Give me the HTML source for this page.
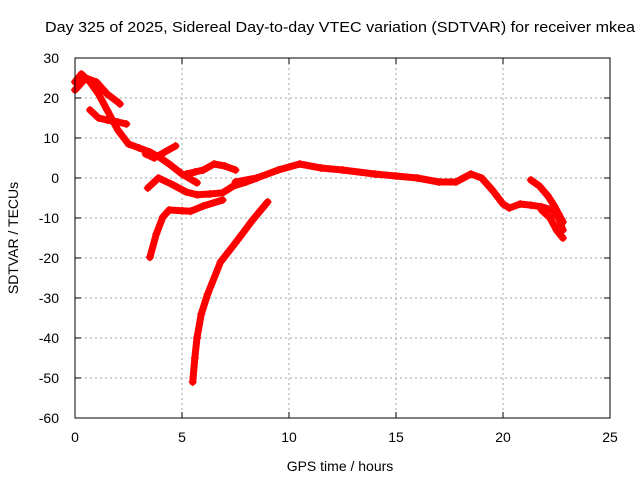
<!DOCTYPE html>
<html><head><meta charset="utf-8"><style>
body{margin:0;background:#fff;}
svg{font-family:"Liberation Sans",sans-serif;font-size:14px;}
</style></head><body>
<svg id="chart" width="640" height="480">
<text x="45" y="32" textLength="590" lengthAdjust="spacingAndGlyphs" font-size="15">Day 325 of 2025, Sidereal Day-to-day VTEC variation (SDTVAR) for receiver mkea</text>
<text x="340" y="471" text-anchor="middle">GPS time / hours</text>
<text transform="translate(18,238) rotate(-90)" text-anchor="middle">SDTVAR / TECUs</text>
<g id="grid"></g><g id="ticks"></g><g id="series"></g>
<rect x="75" y="58" width="535" height="360" fill="none" stroke="#000" stroke-width="1"/>
</svg>
<script>
const xTicks=[0,5,10,15,20,25];
const yTicks=[30,20,10,0,-10,-20,-30,-40,-50,-60];
const trackMainX=[0,0.3,0.7,1.1,1.5,2.0,2.5,3.0,3.5,4.0,4.4,5.0,5.7];
const trackMainY=[24,26,24,21,17,12,8.5,7.5,6.5,5,3.5,1,-1.2];
const trackUpper1X=[0,0.5,1.0,1.5,2.0,2.1];
const trackUpper1Y=[22,25,24,21,19,18.5];
const trackUpper2X=[0.7,1.1,1.5,2.0,2.4];
const trackUpper2Y=[17,15,14.5,14,13.5];
const trackBranchX=[3.3,3.7,4.2,4.7];
const trackBranchY=[6,5,6.5,8];
const trackBumpX=[5.2,5.6,6.0,6.5,7.0,7.5];
const trackBumpY=[1,1.5,2,3.5,3,2];
const trackMidX=[3.4,3.9,4.5,5.2,5.7,6.3,6.9,7.4,8,8.5];
const trackMidY=[-2.5,0,-1.5,-3.5,-4.2,-4,-3.7,-2,-1,0];
const trackLowX=[3.5,3.8,4.1,4.4,5.0,5.4,6.0,6.9];
const trackLowY=[-19.8,-14,-9.8,-8,-8.2,-8.3,-7,-5.5];
const trackSteepX=[5.5,5.6,5.7,5.9,6.2,6.8,7.6,8.3,9.0];
const trackSteepY=[-51,-45,-40,-34,-29,-21,-15.5,-10.5,-6];
const trackRightX=[7.5,8.5,9.5,10.5,11.5,12.5,14,15,16,17,17.8,18.5,19,19.5,20,20.3,20.8,21.3,21.8,22.3,22.6,22.8];
const trackRightY=[-1,0,2,3.5,2.5,2,1,0.5,0,-1,-1,1,0,-3,-6.5,-7.5,-6.5,-6.8,-7.2,-8,-10,-13];
const trackRight2X=[21.3,21.7,22.1,22.4,22.6,22.8];
const trackRight2Y=[-0.5,-2,-4.5,-7,-9,-11];
const trackRight3X=[21.8,22.2,22.5,22.8];
const trackRight3Y=[-8,-10,-13,-15];

const NS="http://www.w3.org/2000/svg";
const X0=75,X1=610,Y0=58,Y1=418;
function sx(v){return X0+(v-0)/(25-0)*(X1-X0);}
function sy(v){return Y1-(v+60)/90*(Y1-Y0);}
function mk(tag,attrs,parent){const e=document.createElementNS(NS,tag);for(const k in attrs)e.setAttribute(k,attrs[k]);parent.appendChild(e);return e;}
const grid=document.getElementById('grid'),ticks=document.getElementById('ticks'),ser=document.getElementById('series');
xTicks.forEach(t=>{
  const x=sx(t);
  if(t>0&&t<25){const g=mk('line',{x1:x,x2:x,y1:Y0,y2:Y1,stroke:'#a0a0a0','stroke-dasharray':'2,3'},grid);
  
  }
  mk('line',{x1:x,x2:x,y1:Y1,y2:Y1-6,stroke:'#000'},ticks);
  mk('line',{x1:x,x2:x,y1:Y0,y2:Y0+6,stroke:'#000'},ticks);
  const l=mk('text',{x:x,y:Y1+24,'text-anchor':'middle'},ticks);l.textContent=t;
  
  
});
yTicks.forEach(t=>{
  const y=sy(t);
  if(t>-60&&t<30){const g=mk('line',{x1:X0,x2:X1,y1:y,y2:y,stroke:'#a0a0a0','stroke-dasharray':'2,3'},grid);
  
  }
  mk('line',{x1:X0,x2:X0+6,y1:y,y2:y,stroke:'#000'},ticks);
  mk('line',{x1:X1,x2:X1-6,y1:y,y2:y,stroke:'#000'},ticks);
  const l=mk('text',{x:X0-16,y:y+5,'text-anchor':'end'},ticks);l.textContent=t;
  
  
});
const tracks=[[trackMainX,trackMainY],[trackUpper1X,trackUpper1Y],[trackUpper2X,trackUpper2Y],[trackBranchX,trackBranchY],[trackBumpX,trackBumpY],[trackMidX,trackMidY],[trackLowX,trackLowY],[trackSteepX,trackSteepY],[trackRightX,trackRightY],[trackRight2X,trackRight2Y],[trackRight3X,trackRight3Y]];
tracks.forEach(([xs,ys])=>{
  const pts=xs.map((v,i)=>sx(v)+','+sy(ys[i])).join(' ');
  const p=mk('polyline',{points:pts,fill:'none',stroke:'#ff0000','stroke-width':7,'stroke-linejoin':'round','stroke-linecap':'round'},ser);
  
  
  xs.forEach((v,i)=>{
    const cx=sx(v),cy=sy(ys[i]);
    const m=mk('path',{d:`M${cx-4},${cy}H${cx+4}M${cx},${cy-4}V${cy+4}`,stroke:'#ff0000','stroke-width':1.2},ser);
    
    
  });
});
</script>
</body></html>
